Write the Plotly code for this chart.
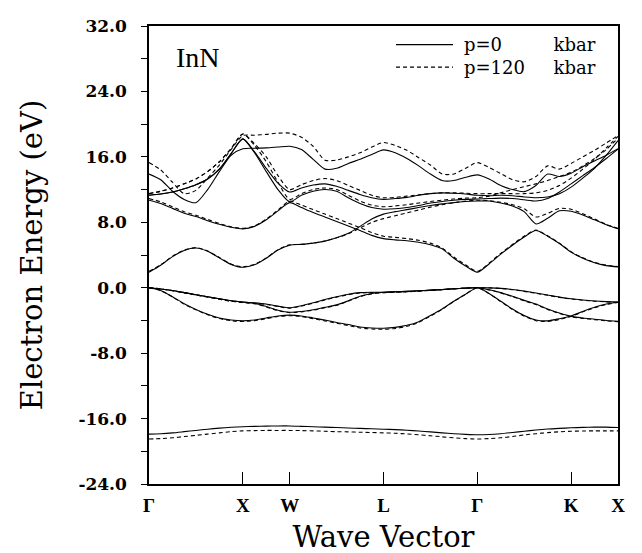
import plotly.graph_objects as go

# ---------------- data ----------------
# k-path coordinate (Γ=0, X=2, W=3, L=5, Γ=7, K=9, X=10), sampled every 0.25
K = [0.0, 0.25, 0.5, 0.75, 1.0, 1.25, 1.5, 1.75, 2.0,
     2.25, 2.5, 2.75, 3.0,
     3.25, 3.5, 3.75, 4.0, 4.25, 4.5, 4.75, 5.0,
     5.25, 5.5, 5.75, 6.0, 6.25, 6.5, 6.75, 7.0,
     7.25, 7.5, 7.75, 8.0, 8.25, 8.5, 8.75, 9.0, 9.25, 9.5, 9.75, 10.0]

K_POS = [0, 2, 3, 5, 7, 9, 10]
K_LABELS = ["Γ", "X", "W", "L", "Γ", "K", "X"]

Y_TICKS = [-24, -16, -8, 0, 8, 16, 24, 32]
Y_LABELS = ["-24.0", "-16.0", "-8.0", "0.0", "8.0", "16.0", "24.0", "32.0"]
Y_MINOR = [-20, -12, -4, 4, 12, 20, 28]

# p = 0 kbar (solid)  /  p = 120 kbar (dashed)
S_SOLID = [-17.9, -17.85, -17.75, -17.6, -17.45, -17.3, -17.17, -17.07, -17.0,
           -16.95, -16.92, -16.9, -16.9,
           -16.95, -17.0, -17.05, -17.1, -17.15, -17.2, -17.25, -17.3,
           -17.35, -17.42, -17.52, -17.63, -17.75, -17.85, -17.93, -17.98,
           -17.95, -17.85, -17.7, -17.55, -17.4, -17.28, -17.2, -17.13, -17.08, -17.05, -17.05, -17.1]
S_DASH = [-18.5, -18.45, -18.35, -18.2, -18.05, -17.9, -17.75, -17.6, -17.5,
          -17.47, -17.45, -17.45, -17.45,
          -17.47, -17.5, -17.55, -17.6, -17.63, -17.67, -17.7, -17.75,
          -17.8, -17.88, -17.98, -18.1, -18.23, -18.35, -18.45, -18.5,
          -18.45, -18.35, -18.2, -18.0, -17.85, -17.72, -17.62, -17.55, -17.52, -17.5, -17.5, -17.5]

V1_SOLID = [0.0, -0.15, -0.35, -0.6, -0.85, -1.1, -1.35, -1.6, -1.75,
            -1.85, -2.0, -2.25, -2.45,
            -2.2, -1.85, -1.45, -1.1, -0.8, -0.6, -0.55, -0.55,
            -0.5, -0.45, -0.38, -0.3, -0.22, -0.13, -0.05, 0.0,
            -0.02, -0.08, -0.22, -0.42, -0.65, -0.9, -1.15, -1.35, -1.5, -1.62, -1.7, -1.75]
V1_DASH = [0.0, -0.15, -0.37, -0.62, -0.88, -1.13, -1.4, -1.65, -1.8,
           -1.9, -2.05, -2.3, -2.5,
           -2.25, -1.9, -1.5, -1.15, -0.85, -0.65, -0.6, -0.6,
           -0.55, -0.5, -0.42, -0.33, -0.24, -0.14, -0.05, 0.0,
           -0.02, -0.09, -0.24, -0.45, -0.68, -0.93, -1.18, -1.38, -1.53, -1.65, -1.73, -1.8]

V2_SOLID = [0.0, -0.35, -1.1, -1.95, -2.65, -3.25, -3.7, -3.95, -4.05,
            -3.95, -3.7, -3.45, -3.35,
            -3.45, -3.7, -3.95, -4.25, -4.5, -4.8, -4.92, -4.95,
            -4.85, -4.6, -4.15, -3.4, -2.6, -1.65, -0.8, 0.0,
            -0.7, -1.65, -2.6, -3.4, -3.95, -4.05, -3.8, -3.45, -2.9, -2.4, -2.0, -1.75]
V2_DASH = [0.0, -0.37, -1.13, -2.0, -2.7, -3.3, -3.77, -4.03, -4.13,
           -4.03, -3.78, -3.52, -3.42,
           -3.52, -3.8, -4.05, -4.35, -4.62, -4.92, -5.05, -5.08,
           -4.98, -4.72, -4.25, -3.48, -2.65, -1.68, -0.8, 0.0,
           -0.72, -1.7, -2.68, -3.48, -4.03, -4.13, -3.88, -3.52, -2.95, -2.45, -2.05, -1.8]

V3_SOLID = [0.0, -0.15, -0.35, -0.6, -0.85, -1.1, -1.35, -1.6, -1.75,
            -1.9, -2.3, -2.75, -3.0,
            -2.9, -2.7, -2.4, -2.1, -1.6, -1.05, -0.7, -0.55,
            -0.5, -0.45, -0.38, -0.3, -0.22, -0.13, -0.05, 0.0,
            -0.25, -0.6, -1.05, -1.55, -2.0, -2.6, -3.1, -3.5, -3.7, -3.85, -4.0, -4.1]
V3_DASH = [0.0, -0.15, -0.37, -0.62, -0.88, -1.13, -1.4, -1.65, -1.8,
           -1.95, -2.35, -2.8, -3.05,
           -2.95, -2.75, -2.45, -2.15, -1.65, -1.1, -0.75, -0.6,
           -0.55, -0.5, -0.42, -0.33, -0.24, -0.14, -0.05, 0.0,
           -0.27, -0.63, -1.08, -1.6, -2.05, -2.65, -3.15, -3.55, -3.75, -3.9, -4.05, -4.15]

C1_SOLID = [1.9, 2.75, 3.8, 4.55, 4.85, 4.45, 3.65, 2.85, 2.5,
            2.8, 3.6, 4.6, 5.2,
            5.3, 5.45, 5.7, 6.1, 6.65, 7.5, 8.4, 9.0,
            9.3, 9.55, 9.8, 10.05, 10.25, 10.4, 10.55, 10.6,
            10.6, 10.35, 10.0, 9.3, 7.8, 8.5, 9.4, 9.35, 8.9, 8.3, 7.7, 7.2]
C1_DASH = [2.0, 2.8, 3.85, 4.6, 4.9, 4.5, 3.7, 2.9, 2.55,
           2.85, 3.65, 4.65, 5.25,
           5.3, 5.45, 5.7, 6.1, 6.6, 7.3, 8.0, 8.45,
           8.8, 9.15, 9.5, 9.85, 10.15, 10.4, 10.6, 10.7,
           10.65, 10.45, 10.15, 9.65, 8.65, 9.1, 9.7, 9.6, 9.05, 8.4, 7.75, 7.25]

C2_SOLID = [10.7, 10.3, 9.7, 9.1, 8.7, 8.2, 7.75, 7.4, 7.2,
            7.5, 8.3, 9.4, 10.4,
            9.8, 9.2, 8.65, 8.1, 7.55, 7.0, 6.4, 6.0,
            5.85, 5.75, 5.55, 5.25, 4.75, 3.6, 2.65, 1.9,
            2.9, 4.1, 5.2, 6.2, 7.0, 6.3, 5.4, 4.35, 3.6, 3.05, 2.7, 2.55]
C2_DASH = [10.9, 10.5, 9.9, 9.3, 8.85, 8.35, 7.85, 7.45, 7.25,
           7.55, 8.4, 9.5, 10.6,
           10.1, 9.55, 9.0, 8.45, 7.9, 7.35, 6.75, 6.3,
           6.15, 6.0, 5.8, 5.45, 4.85, 3.75, 2.8, 2.0,
           3.0, 4.2, 5.3, 6.3, 7.05, 6.35, 5.45, 4.4, 3.65, 3.1, 2.75, 2.6]

A_SOLID = [11.3, 11.45, 11.7, 12.1, 12.6, 13.3, 14.5, 16.4, 18.2,
           16.5, 14.2, 12.0, 10.5,
           11.3, 11.8, 12.0, 11.8, 11.0, 10.3, 9.8, 9.6,
           9.65, 9.8, 10.05, 10.35, 10.55, 10.7, 10.8, 10.85,
           10.9, 10.95, 10.9, 10.75, 10.6, 10.9, 11.7, 12.7, 13.7, 14.7, 15.8, 16.95]
A_DASH = [11.5, 11.8, 12.2, 12.7, 13.3, 14.2, 15.4, 17.0, 18.8,
          17.4, 15.4, 12.9, 10.8,
          11.5, 12.0, 12.2, 12.0, 11.3, 10.6, 10.1, 9.9,
          10.0, 10.15, 10.35, 10.55, 10.7, 10.85, 10.95, 11.0,
          11.2, 11.6, 12.0, 12.35, 12.7, 13.1, 13.6, 14.1, 14.9, 15.8, 16.9, 18.3]

B_SOLID = [11.3, 11.45, 11.7, 12.1, 12.6, 13.3, 14.5, 16.4, 18.2,
           16.6, 14.6, 12.8, 11.7,
           12.2, 12.55, 12.7, 12.4, 11.9, 11.4, 11.0, 10.8,
           10.9, 11.05, 11.3, 11.5, 11.6, 11.55, 11.45, 11.3,
           11.25, 11.3, 11.25, 11.1, 11.0, 11.1, 11.5, 12.3, 13.4, 14.6, 16.2, 18.0]
B_DASH = [11.5, 11.8, 12.2, 12.7, 13.3, 14.2, 15.4, 17.0, 18.8,
          17.6, 16.0, 13.7, 12.0,
          12.6, 13.1, 13.35, 13.1, 12.5, 11.9, 11.3, 11.0,
          11.05, 11.2, 11.35, 11.5, 11.6, 11.6, 11.55, 11.5,
          11.5, 11.5, 11.5, 11.5, 11.6, 11.9, 12.5, 13.4, 14.5, 15.7, 17.1, 18.5]

T_SOLID = [13.9, 13.2, 11.8, 10.8, 10.4, 12.0, 14.2, 16.2, 17.0,
           17.05, 17.1, 17.2, 17.3,
           16.9, 15.7, 14.5, 14.6, 15.2, 15.7, 16.3, 16.85,
           16.5, 15.8, 14.9, 13.9, 13.1, 13.1, 13.5, 13.8,
           13.3, 12.5, 12.0, 11.75, 12.5, 13.9, 13.6, 14.0, 14.8, 15.5, 16.2, 17.0]
T_DASH = [15.3, 14.4, 12.9, 11.5, 11.9, 13.4, 15.0, 16.9, 18.6,
          18.65, 18.75, 18.9, 18.9,
          18.4, 17.3, 15.6, 15.6, 16.0, 16.5, 17.2, 17.75,
          17.4, 16.8, 15.9, 15.0, 13.9, 13.9, 14.6, 15.3,
          14.7, 13.95, 13.2, 12.95, 13.6, 14.9, 14.5, 15.2, 16.0, 16.8, 17.7, 18.6]

BANDS = [
    ("s band", S_SOLID, S_DASH),
    ("valence 1", V1_SOLID, V1_DASH),
    ("valence 2", V2_SOLID, V2_DASH),
    ("valence 3", V3_SOLID, V3_DASH),
    ("conduction 1", C1_SOLID, C1_DASH),
    ("conduction 2", C2_SOLID, C2_DASH),
    ("conduction 3", A_SOLID, A_DASH),
    ("conduction 4", B_SOLID, B_DASH),
    ("conduction 5", T_SOLID, T_DASH),
]

SERIES_NAMES = ["p=0 kbar", "p=120 kbar"]

# ---------------- figure ----------------
fig = go.Figure()
for name, solid, dash in BANDS:
    fig.add_trace(go.Scatter(
        x=K, y=solid, mode="lines", name=SERIES_NAMES[0] + " " + name,
        line=dict(color="black", width=1.1, shape="spline", smoothing=0.7),
        showlegend=False, hoverinfo="skip"))
    fig.add_trace(go.Scatter(
        x=K, y=dash, mode="lines", name=SERIES_NAMES[1] + " " + name,
        line=dict(color="black", width=1.1, dash="4px,3px", shape="spline", smoothing=0.7),
        showlegend=False, hoverinfo="skip"))

L_PAD, R_PAD, T_PAD, B_PAD = 141, 32, 8, 77
W, H = 642, 553
PW, PH = W - L_PAD - R_PAD, H - T_PAD - B_PAD


def px(xp):
    return (xp - L_PAD) / PW


def py(yp):
    return (H - B_PAD - yp) / PH


# custom legend (line samples + labels)
ROW1, ROW2 = 27, 50
fig.add_shape(type="line", xref="paper", yref="paper", x0=px(388), x1=px(445),
              y0=py(ROW1), y1=py(ROW1), line=dict(color="black", width=1.2))
fig.add_shape(type="line", xref="paper", yref="paper", x0=px(388), x1=px(445),
              y0=py(ROW2), y1=py(ROW2), line=dict(color="black", width=1.1, dash="4px,3px"))
NB = "\u00a0"
fig.add_annotation(xref="paper", yref="paper", x=px(455), y=py((ROW1 + ROW2) / 2),
                   xanchor="left", yanchor="middle", align="left", showarrow=False,
                   borderpad=0,
                   text="p=0" + NB * 9 + "kbar<br>p=120" + NB * 5 + "kbar",
                   font=dict(family="DejaVu Serif", size=18, color="black"))
fig.add_annotation(xref="paper", yref="paper", x=px(166), y=py(40), xanchor="left",
                   yanchor="middle", showarrow=False, text="InN",
                   font=dict(family="Liberation Serif", size=28, color="black"))

fig.update_layout(
    width=W, height=H,
    margin=dict(l=L_PAD, r=R_PAD, t=T_PAD, b=B_PAD),
    paper_bgcolor="white", plot_bgcolor="white",
    showlegend=False,
    xaxis=dict(
        range=[0, 10], tickmode="array", tickvals=K_POS, ticktext=K_LABELS,
        ticks="inside", ticklen=12, tickwidth=1, tickcolor="black",
        showline=True, linecolor="black", linewidth=1.5, mirror=True,
        showgrid=False, zeroline=False, ticklabelstandoff=3,
        tickfont=dict(family="Liberation Serif", size=19, color="black", weight="bold"),
        title=dict(text="Wave Vector", standoff=12,
                   font=dict(family="DejaVu Serif", size=29, color="black")),
    ),
    yaxis=dict(
        range=[-24, 32], tickmode="array", tickvals=Y_TICKS, ticktext=Y_LABELS,
        ticks="outside", ticklen=6, tickwidth=1, tickcolor="black",
        minor=dict(tickvals=Y_MINOR, ticks="outside", ticklen=6, tickcolor="black", showgrid=False),
        showline=True, linecolor="black", linewidth=1.5, mirror=True,
        showgrid=False, zeroline=False, ticklabelstandoff=11, ticklabeloverflow="allow",
        tickfont=dict(family="DejaVu Serif", size=17, color="black", weight="bold"),
        title=dict(text="Electron Energy (eV)", standoff=27,
                   font=dict(family="DejaVu Serif", size=29, color="black")),
    ),
)

fig.write_html("out.html")
